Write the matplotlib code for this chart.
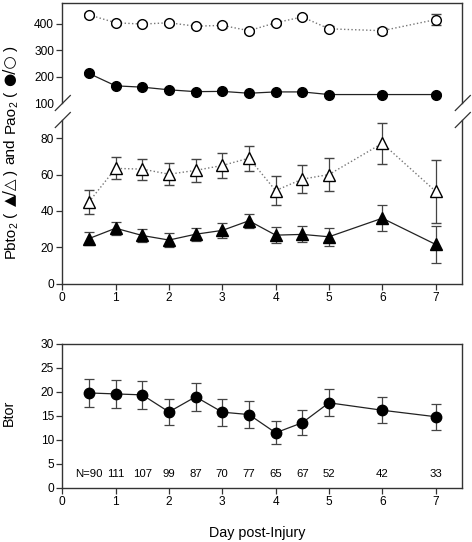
import matplotlib
matplotlib.use("Agg")
import matplotlib.pyplot as plt
from matplotlib.lines import Line2D

plt.rcParams['font.family'] = ['Liberation Sans', 'DejaVu Sans']

# ---------------- data ----------------
days = [0.5, 1, 1.5, 2, 2.5, 3, 3.5, 4, 4.5, 5, 6, 7]

pao2_closed = [212, 165, 160, 150, 143, 144, 137, 142, 142, 132, 132, 132]
pao2_closed_err = [5, 5, 5, 5, 5, 5, 5, 5, 5, 5, 5, 5]
pao2_open = [434, 404, 399, 404, 391, 394, 374, 404, 426, 381, 374, 416]
pao2_open_err = [8, 8, 8, 8, 8, 8, 8, 8, 8, 10, 12, 20]

pbto2_open = [45, 63.4, 63, 60.2, 62.3, 65, 69, 51.2, 57.5, 60, 77.2, 50.8]
pbto2_open_err = [6.7, 6, 5.8, 6.2, 6.4, 7, 6.8, 8, 7.5, 9, 11.4, 17.3]
pbto2_closed = [24.8, 30.5, 26.5, 24, 27.2, 29.3, 34.6, 26.7, 27.1, 25.8, 36, 21.6]
pbto2_closed_err = [3.5, 3.5, 3.5, 3.7, 3.6, 4.2, 3.8, 4.5, 4.4, 5, 7, 10]

btor = [19.8, 19.6, 19.4, 15.85, 19.0, 15.8, 15.3, 11.5, 13.6, 17.75, 16.2, 14.85]
btor_err = [2.95, 2.95, 2.85, 2.75, 2.95, 2.8, 2.75, 2.4, 2.65, 2.85, 2.75, 2.75]

n_labels = ['N=90', '111', '107', '99', '87', '70', '77', '65', '67', '52', '42', '33']

x_ticks = [0, 1, 2, 3, 4, 5, 6, 7]

# ---------------- layout ----------------
W, H = 472, 542
fig = plt.figure(figsize=(W / 100, H / 100), dpi=100)


def rect(x0, y0, x1, y1):
    return [x0 / W, 1 - y1 / H, (x1 - x0) / W, (y1 - y0) / H]


L, R = 62.3, 462.3
ax_up = fig.add_axes(rect(L, 2.7, R, 103))
ax_lo = fig.add_axes(rect(L, 120, R, 283.7))
ax_bt = fig.add_axes(rect(L, 344, R, 488))

spine_col = '#333333'
fs = 8.6
lab_fs = 10.3
err_col = '#444444'

for ax in (ax_up, ax_lo, ax_bt):
    ax.set_xlim(0, 7.5)
    for s in ax.spines.values():
        s.set_color(spine_col)
        s.set_linewidth(1.0)
    ax.tick_params(direction='out', length=4, width=0.9, color=spine_col,
                   labelsize=fs, pad=2, right=False, top=False)
    ax.set_facecolor('none')

# upper broken segment
ax_up.set_ylim(100, 480)
ax_up.spines['bottom'].set_visible(False)
ax_up.set_xticks([])
ax_up.set_yticks([100, 200, 300, 400])
ax_up.yaxis.get_major_ticks()[0].tick1line.set_visible(False)

ax_lo.set_ylim(0, 90)
ax_lo.spines['top'].set_visible(False)
ax_lo.set_yticks([0, 20, 40, 60, 80])
ax_lo.set_xticks(x_ticks)

ax_bt.set_ylim(0, 30)
ax_bt.set_yticks([0, 5, 10, 15, 20, 25, 30])
ax_bt.set_xticks(x_ticks)

ekw = dict(ecolor=err_col, elinewidth=0.9, capsize=3.6, capthick=0.9)

# Pao2
ax_up.errorbar(days, pao2_open, yerr=pao2_open_err, fmt='o', ls=':', color='#777777',
               lw=1.0, mfc='white', mec='black', mew=1.0, ms=7, zorder=3, **ekw)
ax_up.errorbar(days, pao2_closed, yerr=pao2_closed_err, fmt='o', ls='-', color='#222222',
               lw=0.9, mfc='black', mec='black', ms=7, zorder=3, **ekw)

# Pbto2
ax_lo.errorbar(days, pbto2_open, yerr=pbto2_open_err, fmt='^', ls=':', color='#777777',
               lw=1.0, mfc='white', mec='black', mew=1.0, ms=8, zorder=3, **ekw)
ax_lo.errorbar(days, pbto2_closed, yerr=pbto2_closed_err, fmt='^', ls='-', color='#222222',
               lw=0.9, mfc='black', mec='black', ms=8, zorder=3, **ekw)

# Btor
ax_bt.errorbar(days, btor, yerr=btor_err, fmt='o', ls='-', color='#222222',
               lw=0.9, mfc='black', mec='black', ms=7.5, zorder=3, **ekw)

for d, lab in zip(days, n_labels):
    ax_bt.text(d, 3.0, lab, ha='center', va='center', fontsize=8.2)


# break marks (in pixel coordinates -> figure fraction)
def slash(cx, cy):
    xs = [(cx - 7.5) / W, (cx + 7.5) / W]
    ys = [1 - (cy + 7.5) / H, 1 - (cy - 7.5) / H]
    fig.add_artist(Line2D(xs, ys, color=spine_col, lw=0.9))


for cx in (L + 0.5, R + 0.5):
    slash(cx, 103)
    slash(cx, 120)

# ---- composite rotated y-label for the top panel ----
LIB = 'Liberation Sans'
DJV = 'DejaVu Sans'
big = 11.0
# (text, family, size, baseline shift px (positive = subscript), gap after px)
pieces = [
    ('Pbto', LIB, big, 0, -1.0),
    ('2', LIB, 7.5, 2.5, 5.0),
    ('(', LIB, big, 0, 5.0),
    ('▲/△', DJV, big, 0, 3.0),
    (')', LIB, big, 0, 6.0),
    ('and', LIB, big, 0, 5.0),
    ('Pao', LIB, big, 0, -1.0),
    ('2', LIB, 7.5, 2.5, 5.0),
    ('(', LIB, big, 0, 5.0),
    ('●/○', DJV, big, 0, 3.0),
    (')', LIB, big, 0, 0),
]
base_x = 14.5  # px from left
center_y = 152  # px from top
renderer = fig.canvas.get_renderer()
arts = []
lengths = []
for txt, fam, size, shift, gap in pieces:
    t = fig.text(0, 0, txt, rotation=90, rotation_mode='anchor', ha='left', va='baseline',
                 fontsize=size, family=fam)
    arts.append(t)
    lengths.append(t.get_window_extent(renderer).height)
total = sum(lengths) + sum(p[4] for p in pieces)
y = center_y + total / 2  # px from top where text starts (bottom)
for t, ln, (txt, fam, size, shift, gap) in zip(arts, lengths, pieces):
    t.set_position(((base_x + shift) / W, 1 - y / H))
    y -= ln + gap

fig.text(9 / W, 1 - 413 / H, 'Btor', rotation=90, ha='center', va='center', fontsize=lab_fs)
fig.text(257 / W, 1 - 533 / H, 'Day post-Injury', ha='center', va='center', fontsize=lab_fs)

fig.savefig('out.png', dpi=100)
